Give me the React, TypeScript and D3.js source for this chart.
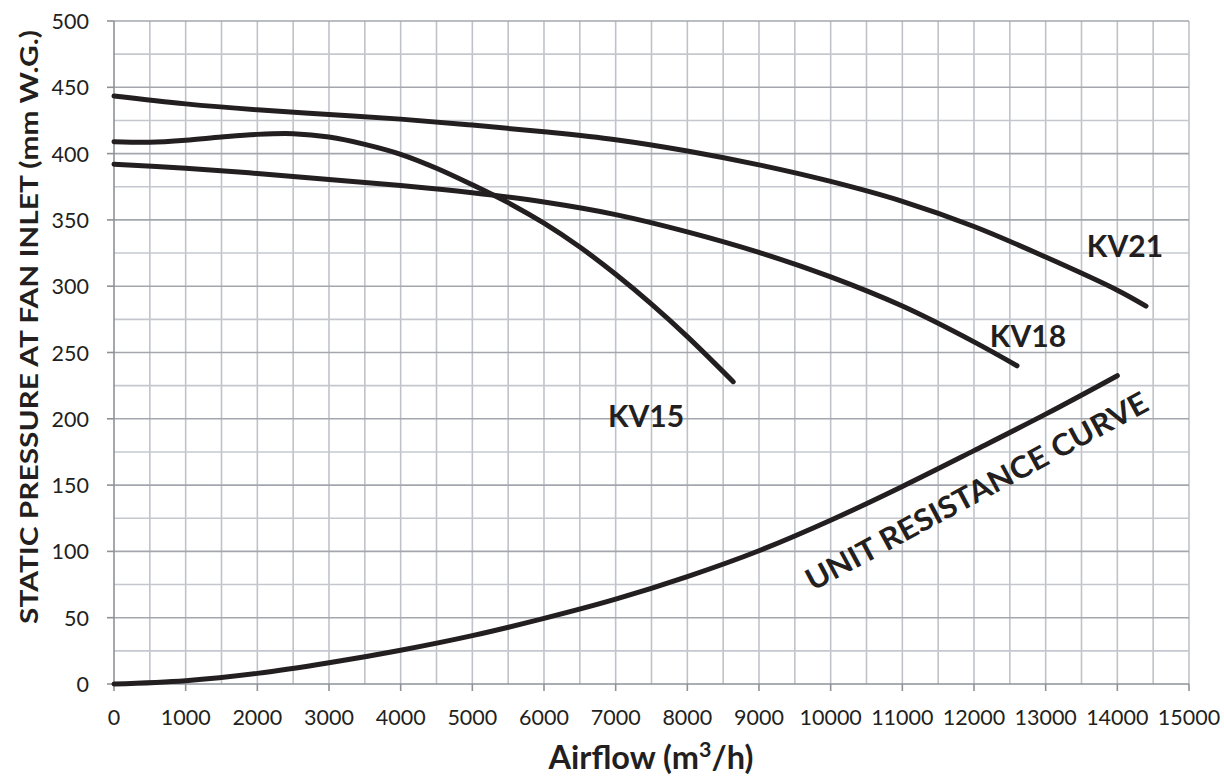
import React from "react";
import * as d3 from "d3";

const xTicks = [0, 1000, 2000, 3000, 4000, 5000, 6000, 7000, 8000, 9000, 10000, 11000, 12000, 13000, 14000, 15000];
const yTicks = [0, 50, 100, 150, 200, 250, 300, 350, 400, 450, 500];

const kv21X = [0, 1000, 2000, 3000, 4000, 5000, 6000, 7000, 8000, 9000, 10000, 11000, 12000, 13000, 14000, 14400];
const kv21Y = [443.5, 437.5, 433, 429.5, 426, 421.5, 416.5, 410.5, 402, 391.5, 379, 364, 345, 322, 297, 285];

const kv18X = [0, 1000, 2000, 3000, 4000, 5000, 6000, 7000, 8000, 9000, 10000, 11000, 12000, 12600];
const kv18Y = [392, 389, 385, 380.5, 376, 370.5, 363.5, 354, 341, 325.5, 307, 285, 258, 240];

const kv15X = [0, 500, 1000, 1500, 2000, 2500, 3000, 3500, 4000, 4500, 5000, 5500, 6000, 6500, 7000, 7500, 8000, 8640];
const kv15Y = [409, 408.5, 410, 412.5, 414.5, 415, 412.5, 407, 399.5, 389, 376.5, 363, 347.5, 329.5, 309, 286.5, 262, 228];

const resX = [0, 1000, 2000, 3000, 4000, 5000, 6000, 7000, 8000, 9000, 10000, 11000, 12000, 13000, 14000];
const resY = [0, 2.5, 8, 16, 25.5, 36.5, 49.5, 64, 81, 100.5, 123.5, 149, 176, 203.5, 232.5];

const curveLabels = [
  { text: "KV21", x: 14106, y: 331 },
  { text: "KV18", x: 12753, y: 263 },
  { text: "KV15", x: 7423, y: 203 },
];

const W = 1224;
const H = 778;
const left = 114;
const right = 1189;
const top = 21;
const bottom = 684;

export default function App() {
  const x = d3.scaleLinear().domain([0, 15000]).range([left, right]);
  const y = d3.scaleLinear().domain([0, 500]).range([bottom, top]);

  const line = d3
    .line<[number, number]>()
    .x((d) => x(d[0]))
    .y((d) => y(d[1]))
    .curve(d3.curveCatmullRom.alpha(0.5));

  const series = [
    kv21X.map((v, i) => [v, kv21Y[i]] as [number, number]),
    kv18X.map((v, i) => [v, kv18Y[i]] as [number, number]),
    kv15X.map((v, i) => [v, kv15Y[i]] as [number, number]),
    resX.map((v, i) => [v, resY[i]] as [number, number]),
  ];

  const vGrid = d3.range(500, 15001, 500);
  const hGrid = d3.range(25, 501, 25);

  const font = "Lato, 'Open Sans', sans-serif";
  const ink = "#231f20";

  return (
    <svg
      width={W}
      height={H}
      style={{ position: "absolute", left: 0, top: 0, background: "#fff" }}
      fontFamily={font}
    >
      {vGrid.map((g) => (
        <line key={"v" + g} x1={x(g)} x2={x(g)} y1={y(0)} y2={y(500)} stroke="#bfc3c9" strokeWidth={1.6} />
      ))}
      {hGrid.map((g) => (
        <line
          key={"h" + g}
          x1={x(0)}
          x2={x(15000)}
          y1={y(g)}
          y2={y(g)}
          stroke={g % 50 === 0 ? "#a3a7ad" : "#c4c8ce"}
          strokeWidth={1.6}
        />
      ))}
      <line x1={x(0)} x2={x(0)} y1={y(0)} y2={y(500)} stroke="#8e9297" strokeWidth={1.6} />
      <line x1={x(0)} x2={x(15000)} y1={y(0)} y2={y(0)} stroke="#8e9297" strokeWidth={1.6} />
      {xTicks.map((t) => (
        <g key={"xt" + t}>
          <line x1={x(t)} x2={x(t)} y1={y(0)} y2={y(0) + 7} stroke="#8e9297" strokeWidth={1.6} />
          <text x={x(t)} y={717} textAnchor="middle" dominantBaseline="central" fontSize={21.5} fill={ink}>
            {t}
          </text>
        </g>
      ))}
      {yTicks.map((t) => (
        <g key={"yt" + t}>
          <line x1={x(0) - 7} x2={x(0)} y1={y(t)} y2={y(t)} stroke="#8e9297" strokeWidth={1.6} />
          <text x={89} y={y(t)} textAnchor="end" dominantBaseline="central" fontSize={21.5} fill={ink}>
            {t}
          </text>
        </g>
      ))}

      {series.map((s, i) => (
        <path
          key={"s" + i}
          d={line(s) || ""}
          fill="none"
          stroke={ink}
          strokeWidth={5}
          strokeLinecap="round"
          strokeLinejoin="round"
        />
      ))}

      {curveLabels.map((l) => (
        <text
          key={l.text}
          x={x(l.x)}
          y={y(l.y)}
          textAnchor="middle"
          dominantBaseline="central"
          fontSize={30}
          fontWeight="bold"
          fill={ink}
        >
          {l.text}
        </text>
      ))}

      <text
        transform={`translate(976,490) rotate(-28.3)`}
        textAnchor="middle"
        dominantBaseline="central"
        fontSize={30}
        fontWeight="bold"
        fill={ink}
        textLength={384}
        lengthAdjust="spacingAndGlyphs"
      >
        UNIT RESISTANCE CURVE
      </text>

      <text x={651} y={769} textAnchor="middle" fontSize={32.5} fontWeight="bold" fill={ink}>
        Airflow (m
        <tspan dy={-12} fontSize={21.5}>3</tspan>
        <tspan dy={12}>/h)</tspan>
      </text>

      <text
        transform={`translate(28,327) rotate(-90)`}
        textAnchor="middle"
        dominantBaseline="central"
        fontSize={25}
        fontWeight="bold"
        fill={ink}
        textLength={594}
        lengthAdjust="spacingAndGlyphs"
      >
        STATIC PRESSURE AT FAN INLET (mm W.G.)
      </text>
    </svg>
  );
}
